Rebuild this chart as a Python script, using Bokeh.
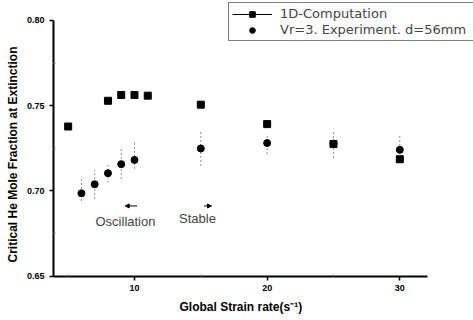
from bokeh.plotting import figure
from bokeh.models import (Legend, LegendItem, Range1d, FixedTicker, Arrow, NormalHead,
                          Label, Title)
from bokeh.embed import file_html
from bokeh.resources import INLINE

# ---- data ----
comp_x = [5, 8, 9, 10, 11, 15, 20, 25, 30]
comp_y = [0.7378, 0.7529, 0.7563, 0.7563, 0.7559, 0.7506, 0.7392, 0.7275, 0.7186]

exp_x = [6, 7, 8, 9, 10, 15, 20, 25, 30]
exp_y = [0.6986, 0.7039, 0.7104, 0.7157, 0.7182, 0.7249, 0.7281, 0.7278, 0.7241]
exp_hi = [0.7069, 0.7122, 0.7157, 0.7251, 0.7294, 0.7350, 0.7335, 0.7357, 0.7324]
exp_lo = [0.6941, 0.6951, 0.7049, 0.7069, 0.7130, 0.7147, 0.7216, 0.7192, 0.7170]

x_ticks = [10, 20, 30]
y_ticks = [0.65, 0.70, 0.75, 0.80]
y_tick_labels = {0.65: "0.65", 0.70: "0.70", 0.75: "0.75", 0.80: "0.80"}

FONT = "Liberation Sans"

p = figure(width=473, height=320, output_backend="svg", toolbar_location=None,
           x_range=Range1d(3.894, 35.556), y_range=Range1d(0.6498, 0.81173),
           min_border_left=53, min_border_right=0, min_border_top=0, min_border_bottom=44)
p.outline_line_color = None
p.grid.visible = False
p.background_fill_color = "white"
p.border_fill_color = "white"

# axes
for ax in (p.xaxis[0], p.yaxis[0]):
    ax.axis_line_width = 2
    ax.axis_line_color = "black"
    ax.major_tick_out = 4
    ax.major_tick_in = 0
    ax.major_tick_line_width = 1.5
    ax.minor_tick_in = 2
    ax.minor_tick_out = 0
    ax.minor_tick_line_color = "#777777"
    ax.major_label_text_font = FONT
    ax.major_label_text_font_style = "bold"
    ax.major_label_text_font_size = "9px"
    ax.major_label_text_color = "black"

p.xaxis.bounds = (3.894, 32.06)
p.yaxis.bounds = (0.6498, 0.80)
p.xaxis.ticker = FixedTicker(ticks=x_ticks, minor_ticks=[5, 15, 25])
p.yaxis.ticker = FixedTicker(ticks=y_ticks, minor_ticks=[0.675, 0.725, 0.775])
p.yaxis.major_label_overrides = y_tick_labels
p.xaxis.major_label_standoff = 4
p.yaxis.major_label_standoff = 5

# axis titles (placed to sit under the visible axis lines)
p.add_layout(Title(text="Global Strain rate(s\u207b\u00b9)", align="left", offset=126,
                   text_font=FONT, text_font_style="bold", text_font_size="12px",
                   text_color="black", standoff=9), "below")
p.add_layout(Title(text="Critical He Mole Fraction at Extinction", align="left", offset=14,
                   text_font=FONT, text_font_style="bold", text_font_size="12px",
                   text_color="black", standoff=7), "left")

# error bars (faint dotted)
p.segment(x0=exp_x, y0=exp_lo, x1=exp_x, y1=exp_hi, line_color="#8a8a8a",
          line_width=1, line_dash="2 2")

# markers
line_r = p.line(x=[float("nan")], y=[float("nan")], line_color="black", line_width=1)
sq_r = p.scatter(x=comp_x, y=comp_y, marker="square", size=7, fill_color="black",
                 line_color="black")
ci_r = p.scatter(x=exp_x, y=exp_y, marker="circle", size=7, fill_color="black",
                 line_color="black")

# annotations
p.add_layout(Arrow(end=NormalHead(size=4, fill_color="black", line_color="black"),
                   x_start=10.2, y_start=0.6912, x_end=9.3, y_end=0.6912,
                   line_width=1, line_color="black"))
p.add_layout(Arrow(end=NormalHead(size=4, fill_color="black", line_color="black"),
                   x_start=15.25, y_start=0.6912, x_end=15.8, y_end=0.6912,
                   line_width=1, line_color="black"))
p.add_layout(Label(x=9.32, y=0.6819, text="Oscillation", text_font=FONT,
                   text_font_size="13px", text_align="center", text_baseline="middle"))
p.add_layout(Label(x=14.75, y=0.6837, text="Stable", text_font=FONT,
                   text_font_size="13px", text_align="center", text_baseline="middle"))

legend = Legend(items=[
    LegendItem(label="1D-Computation", renderers=[line_r, sq_r]),
    LegendItem(label="Vr=3. Experiment. d=56mm", renderers=[ci_r]),
], location=(175, 235))
legend.label_text_font = "DejaVu Sans"
legend.label_text_font_size = "13px"
legend.label_width = 200
legend.glyph_width = 40
legend.glyph_height = 14
legend.label_height = 14
legend.label_standoff = 8
legend.padding = 3
legend.spacing = 1
legend.margin = 0
legend.border_line_color = "black"
legend.border_line_width = 1.5
legend.background_fill_alpha = 1
p.add_layout(legend)

open("out.html", "w").write(file_html(p, INLINE))
